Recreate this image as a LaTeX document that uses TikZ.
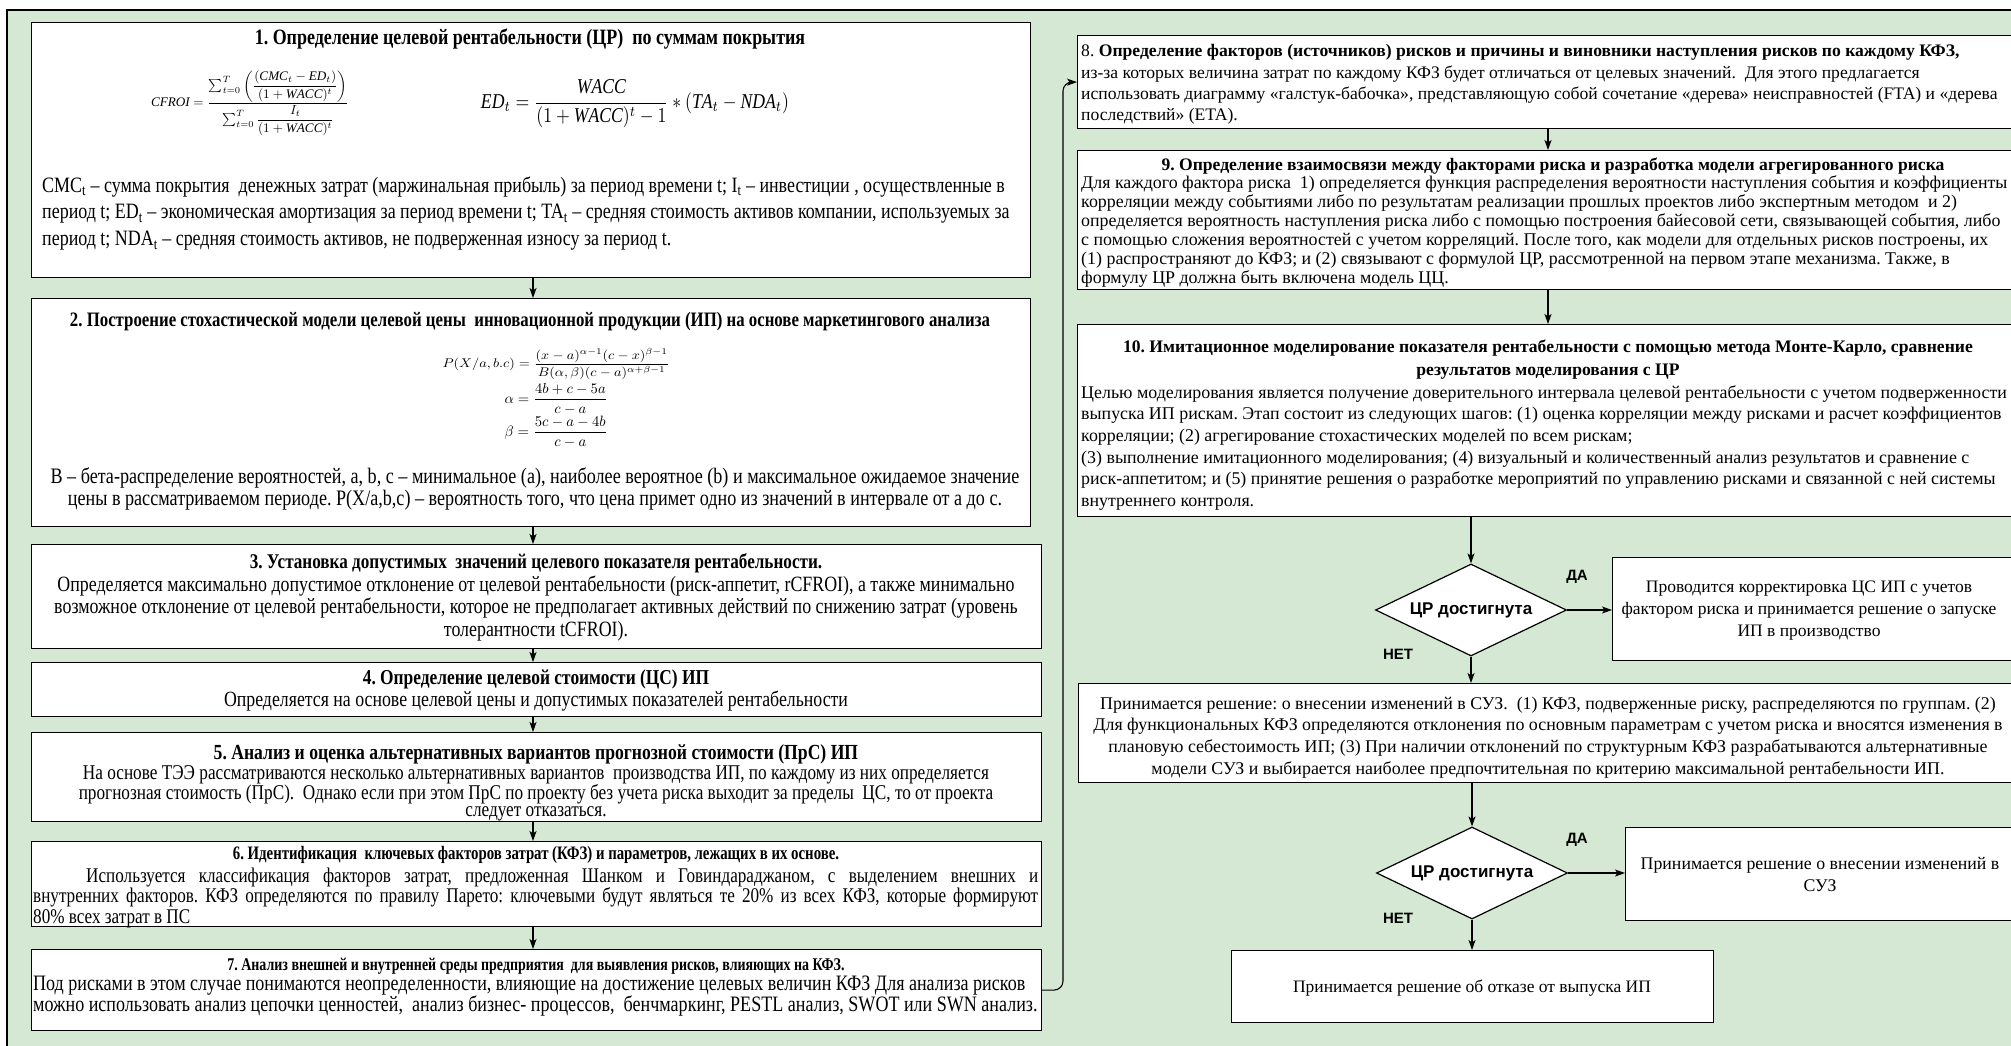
\RequirePackage{fix-cm}
\documentclass[tikz,border=0pt]{standalone}
\usepackage{fontspec}
\usepackage{amsmath}
\usepackage{graphicx}
\setmainfont{Liberation Serif}
\newfontfamily\condf[FakeStretch=0.82]{Liberation Serif}
\newfontfamily\condn[FakeStretch=0.78]{Liberation Serif}
\newfontfamily\sansf{Liberation Sans}
\usetikzlibrary{shapes.geometric,arrows.meta,calc}
\definecolor{bggreen}{HTML}{D5E8D4}
\tikzset{
  box/.style={draw=black, line width=1.2pt, fill=white, inner sep=0pt, anchor=north west},
  arr/.style={line width=1.1pt, -{Stealth[length=10pt,width=7pt,inset=2.5pt]}},
  lc/.style={inner sep=0pt, anchor=base, text width=1150pt, align=flush center},
  ll/.style={inner sep=0pt, anchor=base west, text width=1050pt, align=flush left},
  dec/.style={draw=black, line width=1.2pt, fill=white, diamond, shape aspect=2.08, minimum width=191pt, minimum height=92pt, inner sep=0pt, font=\sansf\bfseries\fontsize{17}{20}\selectfont},
  yn/.style={inner sep=0pt, font=\sansf\bfseries\fontsize{15}{18}\selectfont},
}
\begin{document}
\frenchspacing
\begin{tikzpicture}[x=1pt,y=-1pt]
\useasboundingbox (0,0) rectangle (2011,1046);
\begin{scope}
\clip (0,0) rectangle (2011,1046);
\fill[white] (0,0) rectangle (2011,1046);
\filldraw[fill=bggreen, draw=black, line width=1.2pt] (7,10) rectangle (2040,1070);

% ---------- left column boxes ----------
\node[box, minimum width=999pt, minimum height=255pt] (b1) at (31,22) {};
\node[box, minimum width=999pt, minimum height=228pt] (b2) at (31,298) {};
\node[box, minimum width=1010pt, minimum height=104pt] (b3) at (31,544) {};
\node[box, minimum width=1010pt, minimum height=54pt] (b4) at (31,662) {};
\node[box, minimum width=1010pt, minimum height=89pt] (b5) at (31,732) {};
\node[box, minimum width=1010pt, minimum height=85pt] (b6) at (31,841) {};
\node[box, minimum width=1010pt, minimum height=81pt] (b7) at (31,949) {};

% box 1
\node[lc, font=\condf\bfseries\fontsize{21.9}{24}\selectfont] (t1) at (530,45) {1. Определение целевой рентабельности (ЦР)\ \ по суммам покрытия};
\node[inner sep=0pt] (f1a) at (250,103) {\resizebox*{198pt}{65pt}{$\displaystyle \mathit{CFROI}=\frac{\textstyle\sum_{t=0}^{T}\left(\dfrac{(\mathit{CMC}_t-\mathit{ED}_t)}{(1+\mathit{WACC})^t}\right)}{\textstyle\sum_{t=0}^{T}\dfrac{I_t}{(1+\mathit{WACC})^t}}$}};
\node[inner sep=0pt] (f1b) at (635,104) {\resizebox*{308pt}{48pt}{$\displaystyle \mathit{ED}_t=\frac{\mathit{WACC}}{(1+\mathit{WACC})^t-1}*(\mathit{TA}_t-\mathit{NDA}_t)$}};
\node[ll, font=\condf\fontsize{21.9}{27}\selectfont] (d1t) at (42,192) {CMC\textsubscript{t} – сумма покрытия\ \ денежных затрат (маржинальная прибыль) за период времени t; I\textsubscript{t} – инвестиции , осуществленные в\\период t; ED\textsubscript{t} – экономическая амортизация за период времени t; TA\textsubscript{t} – средняя стоимость активов компании, используемых за\\период t; NDA\textsubscript{t} – средняя стоимость активов, не подверженная износу за период t.};

% box 2
\node[lc, font=\condf\bfseries\fontsize{20.5}{22}\selectfont] (t2) at (530,326) {2. Построение стохастической модели целевой цены\ \ инновационной продукции (ИП) на основе маркетингового анализа};
\node[inner sep=0pt] (f2a) at (556,364) {\resizebox*{227pt}{31pt}{$\displaystyle P(X/a,b.c)=\frac{(x-a)^{\alpha-1}(c-x)^{\beta-1}}{B(\alpha,\beta)(c-a)^{\alpha+\beta-1}}$}};
\node[inner sep=0pt] (f2b) at (556,399) {\resizebox*{103pt}{31pt}{$\displaystyle \alpha=\frac{4b+c-5a}{c-a}$}};
\node[inner sep=0pt] (f2c) at (556,432) {\resizebox*{103pt}{32pt}{$\displaystyle \beta=\frac{5c-a-4b}{c-a}$}};
\node[lc, font=\condf\fontsize{22.1}{22}\selectfont] (d2t) at (535,483) {B – бета-распределение вероятностей, a, b, c – минимальное (a), наиболее вероятное (b) и максимальное ожидаемое значение\\цены в рассматриваемом периоде. P(X/a,b,c) – вероятность того, что цена примет одно из значений в интервале от a до c.};

% box 3
\node[lc, font=\condf\bfseries\fontsize{20.9}{22}\selectfont] (t3) at (536,568) {3. Установка допустимых\ \ значений целевого показателя рентабельности.};
\node[lc, font=\condf\fontsize{21.8}{22.5}\selectfont] (d3t) at (536,591) {Определяется максимально допустимое отклонение от целевой рентабельности (риск-аппетит, rCFROI), а также минимально\\возможное отклонение от целевой рентабельности, которое не предполагает активных действий по снижению затрат (уровень\\толерантности tCFROI).};

% box 4
\node[lc, font=\condf\bfseries\fontsize{21.2}{22}\selectfont] (t4) at (536,684) {4. Определение целевой стоимости (ЦС) ИП};
\node[lc, font=\condf\fontsize{21.7}{22}\selectfont] (d4t) at (536,706) {Определяется на основе целевой цены и допустимых показателей рентабельности};

% box 5
\node[lc, font=\condf\bfseries\fontsize{21.5}{22}\selectfont] (t5) at (536,759) {5. Анализ и оценка альтернативных вариантов прогнозной стоимости (ПрС) ИП};
\node[lc, font=\condf\fontsize{21}{17}\selectfont] (d5t) at (536,779) {На основе ТЭЭ рассматриваются несколько альтернативных вариантов\ \ производства ИП, по каждому из них определяется\\прогнозная стоимость (ПрС).\ \ Однако если при этом ПрС по проекту без учета риска выходит за пределы\ \ ЦС, то от проекта\\следует отказаться.};

% box 6
\node[lc, font=\condn\bfseries\fontsize{19}{22}\selectfont] (t6) at (536,859) {6. Идентификация\ \ ключевых факторов затрат (КФЗ) и параметров, лежащих в их основе.};
\node[inner sep=0pt, anchor=base west, text width=1005pt, align=justify, font=\condf\fontsize{20.9}{20.5}\selectfont] (d6t) at (33,882) {\hspace*{53pt}Используется классификация факторов затрат, предложенная Шанком и Говиндараджаном, с выделением внешних и\linebreak внутренних факторов. КФЗ определяются по правилу Парето: ключевыми будут являться те 20\% из всех КФЗ, которые формируют\linebreak 80\% всех затрат в ПС};

% box 7
\node[lc, font=\condn\bfseries\fontsize{17.9}{22}\selectfont] (t7) at (536,970) {7. Анализ внешней и внутренней среды предприятия\ \ для выявления рисков, влияющих на КФЗ.};
\node[ll, font=\condf\fontsize{22}{18}\selectfont] (d7t) at (33,990) {Под рисками в этом случае понимаются неопределенности, влияющие на достижение целевых величин КФЗ Для анализа рисков\\можно использовать анализ цепочки ценностей,\ \ анализ бизнес- процессов,\ \ бенчмаркинг, PESTL анализ, SWOT или SWN анализ.};

% ---------- right column ----------
\node[box, minimum width=942pt, minimum height=93pt] (b8) at (1077,35) {};
\node[box, minimum width=942pt, minimum height=139pt] (b9) at (1077,150) {};
\node[box, minimum width=942pt, minimum height=192pt] (b10) at (1077,324) {};

\node[ll, font=\fontsize{17.6}{21.3}\selectfont] (t8) at (1081,57) {8. \textbf{Определение факторов (источников) рисков и причины и виновники наступления рисков по каждому КФЗ,}\\из-за которых величина затрат по каждому КФЗ будет отличаться от целевых значений.\ \ Для этого предлагается\\использовать диаграмму «галстук-бабочка», представляющую собой сочетание «дерева» неисправностей (FTA) и «дерева\\последствий» (ETA).};

\node[lc, font=\bfseries\fontsize{17.6}{21}\selectfont] (t9) at (1553,171) {9. Определение взаимосвязи между факторами риска и разработка модели агрегированного риска};
\node[ll, font=\fontsize{17.9}{19}\selectfont] (d9t) at (1081,189) {Для каждого фактора риска\ \ 1) определяется функция распределения вероятности наступления события и коэффициенты\\корреляции между событиями либо по результатам реализации прошлых проектов либо экспертным методом\ \ и 2)\\определяется вероятность наступления риска либо с помощью построения байесовой сети, связывающей события, либо\\с помощью сложения вероятностей с учетом корреляций. После того, как модели для отдельных рисков построены, их\\(1) распространяют до КФЗ; и (2) связывают с формулой ЦР, рассмотренной на первом этапе механизма. Также, в\\формулу ЦР должна быть включена модель ЦЦ.};

\node[lc, font=\bfseries\fontsize{17.6}{23}\selectfont] (t10) at (1548,352) {10. Имитационное моделирование показателя рентабельности с помощью метода Монте-Карло, сравнение\\результатов моделирования с ЦР};
\node[ll, font=\fontsize{17.9}{21.7}\selectfont] (d10t) at (1081,398) {Целью моделирования является получение доверительного интервала целевой рентабельности с учетом подверженности\\выпуска ИП рискам. Этап состоит из следующих шагов: (1) оценка корреляции между рисками и расчет коэффициентов\\корреляции; (2) агрегирование стохастических моделей по всем рискам;\\(3) выполнение имитационного моделирования; (4) визуальный и количественный анализ результатов и сравнение с\\риск-аппетитом; и (5) принятие решения о разработке мероприятий по управлению рисками и связанной с ней системы\\внутреннего контроля.};

% decisions
\node[dec] (d1) at (1471,610) {ЦР достигнута};
\node[box, minimum width=407pt, minimum height=103pt] (y1) at (1612,557) {};
\node[lc, text width=400pt, font=\fontsize{17.5}{22}\selectfont] (y1t) at (1809,592) {Проводится корректировка ЦС ИП с учетов\\фактором риска и принимается решение о запуске\\ИП в производство};
\node[box, minimum width=941pt, minimum height=99pt] (n1) at (1078,683) {};
\node[lc, font=\fontsize{17.9}{21.7}\selectfont] (n1t) at (1548,709) {Принимается решение: о внесении изменений в СУЗ.\ \ (1) КФЗ, подверженные риску, распределяются по группам. (2)\\Для функциональных КФЗ определяются отклонения по основным параметрам с учетом риска и вносятся изменения в\\плановую себестоимость ИП; (3) При наличии отклонений по структурным КФЗ разрабатываются альтернативные\\модели СУЗ и выбирается наиболее предпочтительная по критерию максимальной рентабельности ИП.};

\node[dec] (d2) at (1472,873) {ЦР достигнута};
\node[box, minimum width=394pt, minimum height=93pt] (y2) at (1625,827) {};
\node[lc, text width=400pt, font=\fontsize{17.8}{22}\selectfont] (y2t) at (1820,869) {Принимается решение о внесении изменений в\\СУЗ};
\node[box, minimum width=482pt, minimum height=72pt] (fin) at (1231,950) {};
\node[lc, text width=470pt, font=\fontsize{17.5}{22}\selectfont] (fint) at (1472,992) {Принимается решение об отказе от выпуска ИП};

\node[yn] (da1) at (1577,577) {ДА};
\node[yn] (net1) at (1398,654) {НЕТ};
\node[yn] (da2) at (1577,840) {ДА};
\node[yn] (net2) at (1398,918) {НЕТ};

% ---------- connectors ----------
\coordinate (ax) at (533,0);
\coordinate (rx) at (1548,0);
\coordinate (jx) at (1063,0);
\draw[arr] (b1.south -| ax) -- (b2.north -| ax);
\draw[arr] (b2.south -| ax) -- (b3.north -| ax);
\draw[arr] (b3.south -| ax) -- (b4.north -| ax);
\draw[arr] (b4.south -| ax) -- (b5.north -| ax);
\draw[arr] (b5.south -| ax) -- (b6.north -| ax);
\draw[arr] (b6.south -| ax) -- (b7.north -| ax);
\draw[arr, rounded corners=9pt] (b7.east) -| (jx |- b8.west) -- (b8.west);
\draw[arr] (b8.south -| rx) -- (b9.north -| rx);
\draw[arr] (b9.south -| rx) -- (b10.north -| rx);
\draw[arr] (b10.south -| d1.north) -- (d1.north);
\draw[arr] (d1.east) -- (d1.east -| y1.west);
\draw[arr] (d1.south) -- (d1.south |- n1.north);
\draw[arr] (n1.south -| d2.north) -- (d2.north);
\draw[arr] (d2.east) -- (d2.east -| y2.west);
\draw[arr] (d2.south) -- (d2.south |- fin.north);
\end{scope}
\end{tikzpicture}
\end{document}
